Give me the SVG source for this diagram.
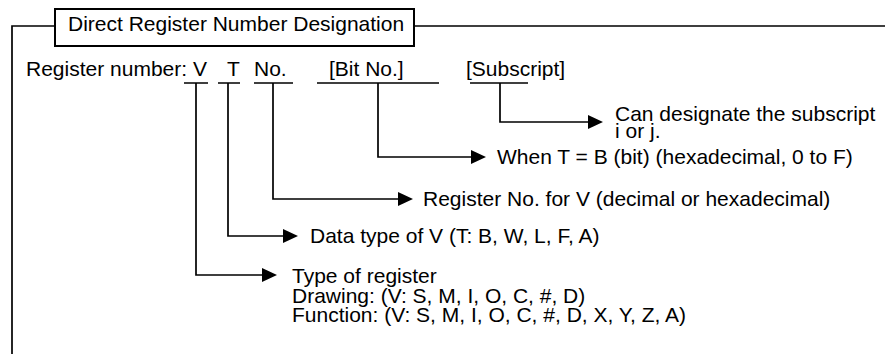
<svg xmlns="http://www.w3.org/2000/svg" width="885" height="354" viewBox="0 0 885 354">
<style>
text{font-family:"Liberation Sans",Arial,sans-serif;font-size:21px;fill:#000}
.ln{fill:none;stroke:#000;stroke-width:1.7}
.box{fill:#fff;stroke:#000;stroke-width:2}
</style>
<defs>
<marker id="ah" markerUnits="userSpaceOnUse" markerWidth="15" markerHeight="14" refX="0" refY="7" orient="auto">
<path d="M0,0 L15,7 L0,14 z" fill="#000"/>
</marker>
</defs>
<rect width="885" height="354" fill="#fff"/>
<g id="frame">
<path class="ln" d="M12,354 V26 H55 M414,26 H885"/>
</g>
<g id="title">
<rect class="box" x="55" y="9" width="359" height="37"/>
<text x="68" y="31">Direct Register Number Designation</text>
</g>
<g id="register-number">
<text x="26" y="76">Register number: V</text>
<text x="227" y="76">T</text>
<text x="254" y="76">No.</text>
<text x="329" y="76">[Bit No.]</text>
<text x="466" y="76">[Subscript]</text>
<path class="ln" d="M184,83 H208 M218,83 H240 M254,83 H293 M317,83 H439 M470,83 H528"/>
</g>
<g id="connectors">
<path class="ln" d="M196,83 V275 H262" marker-end="url(#ah)"/>
<path class="ln" d="M228,83 V236 H283" marker-end="url(#ah)"/>
<path class="ln" d="M273,83 V199 H398" marker-end="url(#ah)"/>
<path class="ln" d="M378,83 V157 H471" marker-end="url(#ah)"/>
<path class="ln" d="M500,83 V122 H588" marker-end="url(#ah)"/>
</g>
<g id="subscript-desc">
<text x="615" y="121">Can designate the subscript</text>
<text x="615" y="138">i or j.</text>
</g>
<g id="bit-desc">
<text x="497" y="164">When T = B (bit) (hexadecimal, 0 to F)</text>
</g>
<g id="no-desc">
<text x="423" y="206">Register No. for V (decimal or hexadecimal)</text>
</g>
<g id="t-desc">
<text x="310" y="243">Data type of V (T: B, W, L, F, A)</text>
</g>
<g id="v-desc">
<text x="292" y="283">Type of register</text>
<text x="292" y="302.5">Drawing: (V: S, M, I, O, C, #, D)</text>
<text x="292" y="322">Function: (V: S, M, I, O, C, #, D, X, Y, Z, A)</text>
</g>
</svg>
